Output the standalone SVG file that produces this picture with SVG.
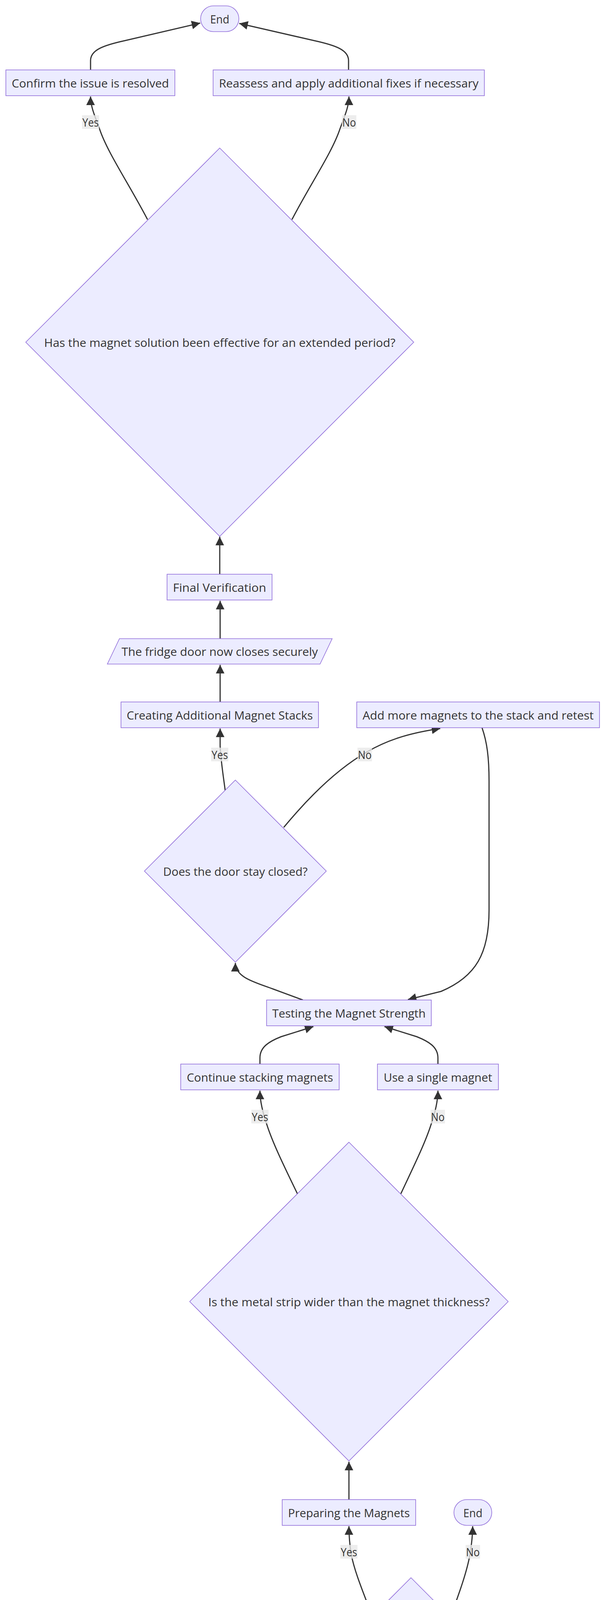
<svg xmlns="http://www.w3.org/2000/svg" width="1568" height="5204" viewBox="0 0 1568 5204">
<defs>
<style>
.node rect,.node polygon{fill:#ECECFF;stroke:#9370DB;stroke-width:1.6}
.node text,.elabel text{font-family:"Open Sans","Noto Sans",sans-serif;font-size:29.5px;fill:#333333;text-anchor:middle;dominant-baseline:central}
.edge{fill:none;stroke:#333333;stroke-width:3;marker-end:url(#arrow)}
.elabel rect{fill:#e8e8e8;fill-opacity:0.8}
</style>
<marker id="arrow" viewBox="0 0 10 10" refX="10" refY="5" markerUnits="userSpaceOnUse" markerWidth="22" markerHeight="22" orient="auto">
<path d="M0,0 L10,5 L0,10 z" fill="#333333"/>
</marker>
</defs>
<rect width="1568" height="5204" fill="#ffffff"/>
<g id="edges">
<path class="edge" d="M1053,5069 L1053,4973"/>
<path class="edge" d="M1053,4905 L1053,4809"/>
<path class="edge" d="M953,4136 C935,4086 910,4030 900,3980 C896,3955 894,3930 894,3907"/>
<path class="edge" d="M1154,4140 C1172,4090 1195,4030 1204,3980 C1208,3955 1211,3930 1211,3907"/>
<path class="edge" d="M894,3839 L894,3742"/>
<path class="edge" d="M762,3056 C735,3000 700,2930 684,2880 C672,2845 666,2815 666,2792"/>
<path class="edge" d="M1027,3056 C1053,3000 1088,2930 1104,2880 C1116,2845 1122,2815 1122,2792"/>
<path class="edge" d="M666,2724 L666,2708 C666,2680 690,2666 720,2654 L803,2628"/>
<path class="edge" d="M1122,2724 L1122,2708 C1122,2680 1098,2666 1068,2654 L985,2628"/>
<path class="edge" d="M776,2560 L700,2532 C655,2515 603,2503 603,2465"/>
<path class="edge" d="M577,2024 C572,1985 566,1950 564,1910 L564,1865"/>
<path class="edge" d="M727,2118 C800,2030 870,1965 940,1925 C1000,1890 1060,1875 1128,1865"/>
<path class="edge" d="M1235,1863 C1248,1900 1253,1940 1253,2000 L1253,2330 C1253,2440 1220,2500 1130,2538 L1045,2559"/>
<path class="edge" d="M564,1797 L564,1702"/>
<path class="edge" d="M564,1635 L564,1538"/>
<path class="edge" d="M563,1470 L563,1374"/>
<path class="edge" d="M378,562 C330,470 275,390 255,330 C240,290 232,270 232,247"/>
<path class="edge" d="M748,562 C796,470 851,390 871,330 C886,290 894,270 894,247"/>
<path class="edge" d="M232,179 L232,155 C232,128 265,116 320,104 L513,59"/>
<path class="edge" d="M893,179 L893,155 C893,128 860,116 805,104 L613,60"/>
</g>
<g id="edge-labels">
<g class="elabel"><rect x="872" y="3955" width="44" height="35"/><text x="894" y="3972.5" textLength="42" lengthAdjust="spacingAndGlyphs">Yes</text></g>
<g class="elabel"><rect x="1193" y="3955" width="37" height="35"/><text x="1211.5" y="3972.5" textLength="35" lengthAdjust="spacingAndGlyphs">No</text></g>
<g class="elabel"><rect x="644" y="2841" width="44" height="35"/><text x="666" y="2858.5" textLength="42" lengthAdjust="spacingAndGlyphs">Yes</text></g>
<g class="elabel"><rect x="1103" y="2841" width="37" height="35"/><text x="1121.5" y="2858.5" textLength="35" lengthAdjust="spacingAndGlyphs">No</text></g>
<g class="elabel"><rect x="541" y="1914" width="44" height="35"/><text x="563" y="1931.5" textLength="42" lengthAdjust="spacingAndGlyphs">Yes</text></g>
<g class="elabel"><rect x="916" y="1914" width="37" height="35"/><text x="934.5" y="1931.5" textLength="35" lengthAdjust="spacingAndGlyphs">No</text></g>
<g class="elabel"><rect x="210" y="295" width="44" height="35"/><text x="232" y="312.5" textLength="42" lengthAdjust="spacingAndGlyphs">Yes</text></g>
<g class="elabel"><rect x="876" y="295" width="37" height="35"/><text x="894.5" y="312.5" textLength="35" lengthAdjust="spacingAndGlyphs">No</text></g>
</g>
<g id="n_end1" class="node"><rect x="514" y="15" width="98" height="66" rx="33"/><text x="563" y="48" textLength="49" lengthAdjust="spacingAndGlyphs">End</text></g>
<g id="n_confirm" class="node"><rect x="15" y="179" width="433" height="66"/><text x="231.5" y="212" textLength="403" lengthAdjust="spacingAndGlyphs">Confirm the issue is resolved</text></g>
<g id="n_reassess" class="node"><rect x="546" y="179" width="695" height="66"/><text x="893.5" y="212" textLength="665" lengthAdjust="spacingAndGlyphs">Reassess and apply additional fixes if necessary</text></g>
<g id="n_q4" class="node"><polygon points="563,379 1060,876 563,1373 66,876"/><text x="563" y="876" textLength="900" lengthAdjust="spacingAndGlyphs">Has the magnet solution been effective for an extended period?</text></g>
<g id="n_final" class="node"><rect x="428" y="1470" width="269" height="66"/><text x="562.5" y="1503" textLength="239" lengthAdjust="spacingAndGlyphs">Final Verification</text></g>
<g id="n_secure" class="node"><polygon points="306,1635 851,1635 820,1700 275,1700"/><text x="563" y="1667.5" textLength="503" lengthAdjust="spacingAndGlyphs">The fridge door now closes securely</text></g>
<g id="n_create" class="node"><rect x="310" y="1797" width="506" height="66"/><text x="563" y="1830" textLength="477" lengthAdjust="spacingAndGlyphs">Creating Additional Magnet Stacks</text></g>
<g id="n_addmore" class="node"><rect x="914" y="1797" width="622" height="66"/><text x="1225" y="1830" textLength="592" lengthAdjust="spacingAndGlyphs">Add more magnets to the stack and retest</text></g>
<g id="n_q3" class="node"><polygon points="603,1997 836,2230 603,2463 370,2230"/><text x="603" y="2230" textLength="370" lengthAdjust="spacingAndGlyphs">Does the door stay closed?</text></g>
<g id="n_test" class="node"><rect x="683" y="2560" width="422" height="66"/><text x="894" y="2593" textLength="393" lengthAdjust="spacingAndGlyphs">Testing the Magnet Strength</text></g>
<g id="n_continue" class="node"><rect x="463" y="2724" width="406" height="66"/><text x="666" y="2757" textLength="375" lengthAdjust="spacingAndGlyphs">Continue stacking magnets</text></g>
<g id="n_single" class="node"><rect x="967" y="2724" width="310" height="66"/><text x="1122" y="2757" textLength="278" lengthAdjust="spacingAndGlyphs">Use a single magnet</text></g>
<g id="n_q2" class="node"><polygon points="894,2924 1302,3332 894,3740 486,3332"/><text x="894" y="3332" textLength="721" lengthAdjust="spacingAndGlyphs">Is the metal strip wider than the magnet thickness?</text></g>
<g id="n_prep" class="node"><rect x="723" y="3839" width="342" height="66"/><text x="894" y="3872" textLength="312" lengthAdjust="spacingAndGlyphs">Preparing the Magnets</text></g>
<g id="n_end2" class="node"><rect x="1163" y="3839" width="97" height="66" rx="33"/><text x="1211.5" y="3872" textLength="49" lengthAdjust="spacingAndGlyphs">End</text></g>
<g id="n_q1" class="node"><polygon points="1053,4039 1437,4424 1053,4808 668,4424"/><text x="1053" y="4424" textLength="673" lengthAdjust="spacingAndGlyphs">Is the fridge door opening due to a slight jostle?</text></g>
<g id="n_assess" class="node"><rect x="798" y="4905" width="509" height="66"/><text x="1052.5" y="4938" textLength="478" lengthAdjust="spacingAndGlyphs">Assessing the Fridge Door Problem</text></g>
<g id="n_start" class="node"><rect x="996" y="5069" width="114" height="66" rx="33"/><text x="1053" y="5102" textLength="67" lengthAdjust="spacingAndGlyphs">Start</text></g>
</svg>
